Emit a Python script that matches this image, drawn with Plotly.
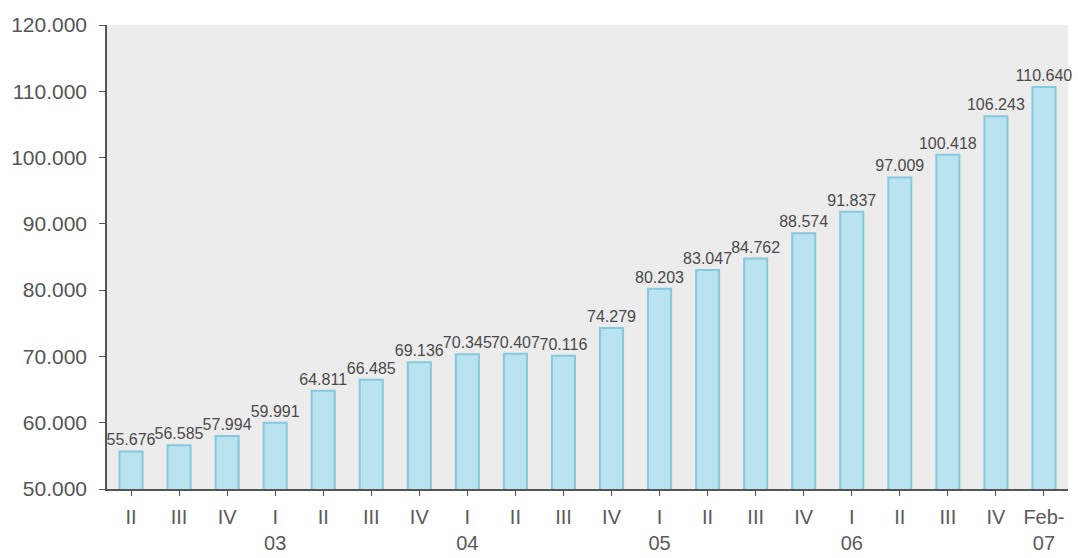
import plotly.graph_objects as go

# Quarterly values (thousands separator shown as "."), II/2002 through Feb-2007
categories = ["II", "III", "IV", "I<br>03", "II", "III", "IV", "I<br>04", "II", "III",
              "IV", "I<br>05", "II", "III", "IV", "I<br>06", "II", "III", "IV", "Feb-<br>07"]
values = [55676, 56585, 57994, 59991, 64811, 66485, 69136, 70345, 70407, 70116,
          74279, 80203, 83047, 84762, 88574, 91837, 97009, 100418, 106243, 110640]
y_ticks = [50000, 60000, 70000, 80000, 90000, 100000, 110000, 120000]

x_pos = list(range(len(categories)))

fig = go.Figure(
    go.Bar(
        x=x_pos,
        y=values,
        marker=dict(color="#b8e3ef", line=dict(color="#86c8dc", width=2)),
        texttemplate="%{y:,d}",
        textposition="outside",
        constraintext="none",
        textfont=dict(family="Liberation Sans, Arial, sans-serif", size=16, color="#4a4a4a"),
        cliponaxis=False,
        width=0.48,
    )
)

fig.update_layout(
    width=1078,
    height=558,
    margin=dict(l=107, r=10, t=25, b=69),
    paper_bgcolor="white",
    plot_bgcolor="#ececec",
    separators=",.",
    showlegend=False,
    font=dict(family="Liberation Sans, Arial, sans-serif", size=20, color="#555555"),
)

fig.update_xaxes(
    tickmode="array",
    tickvals=x_pos,
    ticktext=categories,
    range=[-0.5, len(categories) - 0.5],
    showline=True,
    linecolor="#555555",
    linewidth=1.5,
    ticks="outside",
    tickson="boundaries",
    ticklen=5,
    tickcolor="#555555",
    showgrid=False,
    ticklabelstandoff=4,
    automargin=False,
    tickfont=dict(size=20, color="#5a5a5a"),
)

fig.update_yaxes(
    range=[50000, 120000],
    tickvals=y_ticks,
    tickformat=",d",
    showline=True,
    linecolor="#555555",
    linewidth=1.5,
    ticks="outside",
    ticklen=6,
    tickcolor="#555555",
    showgrid=False,
    zeroline=False,
    ticklabelstandoff=8,
    automargin=False,
    tickfont=dict(size=21, color="#555555"),
)

fig.write_html("out.html")
